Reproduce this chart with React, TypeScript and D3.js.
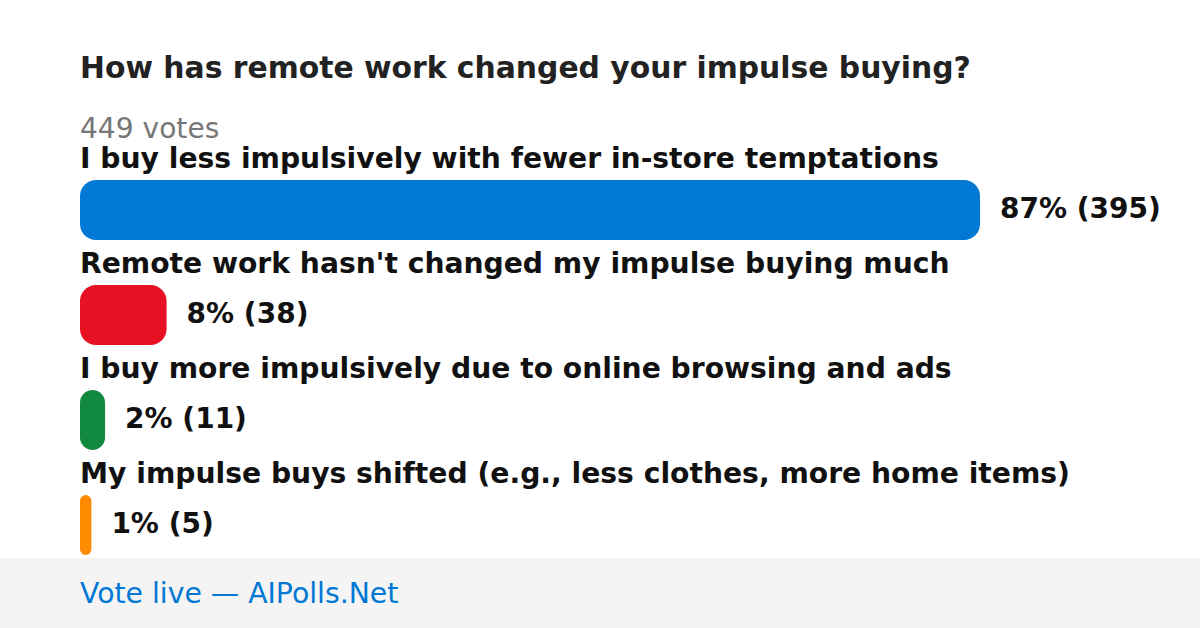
import React from "react";
import * as d3 from "d3";

const title = "How has remote work changed your impulse buying?";
const totalVotes = 449;
const options = [
  "I buy less impulsively with fewer in-store temptations",
  "Remote work hasn't changed my impulse buying much",
  "I buy more impulsively due to online browsing and ads",
  "My impulse buys shifted (e.g., less clothes, more home items)",
];
const votes = [395, 38, 11, 5];
const colors = ["#0078D4", "#E81123", "#10893E", "#FF8C00"];
const footerText = "Vote live — AIPolls.Net";

const W = 1200;
const H = 628;
const FONT = "'DejaVu Sans', Verdana, sans-serif";

export default function App() {
  const x = d3.scaleLinear().domain([0, d3.max(votes) as number]).range([0, 900]);
  const y = d3.scaleBand<number>().domain(d3.range(options.length)).range([180, 180 + 105 * options.length]).paddingInner(0).paddingOuter(0);
  const barH = 60;
  return (
    <svg width={W} height={H} viewBox={`0 0 ${W} ${H}`} style={{ position: "absolute", left: 0, top: 0, display: "block" }}>
      <rect x={0} y={0} width={W} height={H} fill="#ffffff" />
      <text x={80} y={78} fontFamily={FONT} fontWeight="bold" fontSize={29.8} fill="#222222">{title}</text>
      <text x={80} y={137.5} fontFamily={FONT} fontSize={28.1} fill="#777777">{`${totalVotes} votes`}</text>
      {options.map((opt, i) => {
        const top = y(i) as number;
        const w = x(votes[i]);
        const r = Math.min(16, w / 2);
        const pct = Math.floor((votes[i] / totalVotes) * 100);
        return (
          <g key={i}>
            <text x={80} y={top - 12} fontFamily={FONT} fontWeight="bold" fontSize={28.2} fill="#111111">{opt}</text>
            <rect x={80} y={top} width={w} height={barH} rx={r} ry={r} fill={colors[i]} />
            <text x={80 + w + 20} y={top + 38} fontFamily={FONT} fontWeight="bold" fontSize={28} fill="#111111">{`${pct}% (${votes[i]})`}</text>
          </g>
        );
      })}
      <rect x={0} y={558} width={W} height={70} fill="#f4f4f4" />
      <text x={80} y={603} fontFamily={FONT} fontSize={28.3} fill="#0078D4">{footerText}</text>
    </svg>
  );
}
